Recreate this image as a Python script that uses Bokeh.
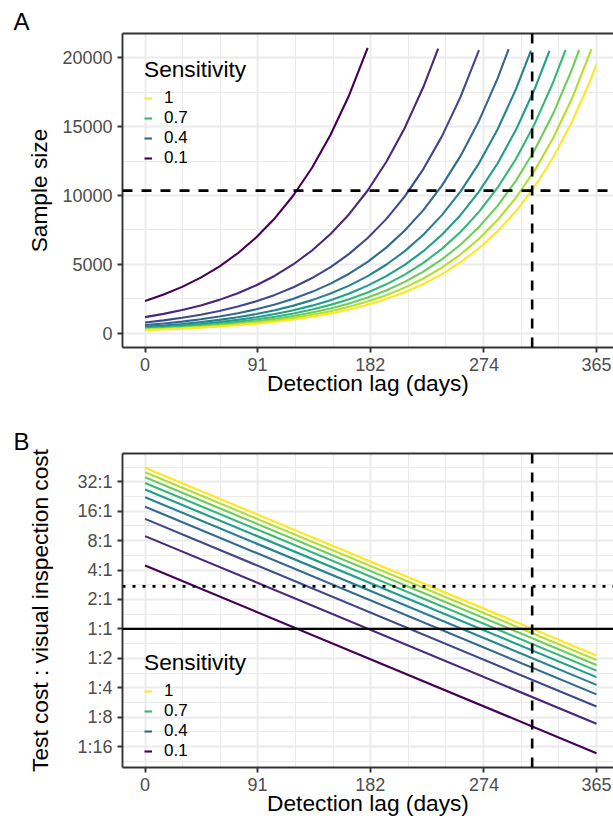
from bokeh.plotting import figure
from bokeh.models import Range1d, FixedTicker, Span, Legend, LegendItem, LinearAxis
from bokeh.layouts import column
from bokeh.embed import file_html
from bokeh.resources import INLINE

# ---------------- data ----------------
sensitivity = [0.1, 0.2, 0.3, 0.4, 0.5, 0.6, 0.7, 0.8, 0.9, 1.0]
line_colors = ["#440154", "#482878", "#3E4989", "#31688E", "#26828E",
               "#1F9E89", "#35B779", "#6DCD59", "#B4DE2C", "#FDE725"]

# panel A: sample size, read every 15 days, last value at the curve's last day
lag_grid = [0, 15, 30, 45, 60, 75, 90, 105, 120, 135, 150, 165, 180,
            195, 210, 225, 240, 255, 270, 285, 300, 315, 330, 345, 360]
size_last_day = [180, 237, 270, 294, 312, 327, 340, 351, 361, 365]

size_s01 = [2340, 2806, 3366, 4036, 4841, 5806, 6963, 8350, 10015, 12011, 14404, 17275, 20718]
size_s02 = [1170, 1403, 1683, 2018, 2421, 2903, 3482, 4175, 5008, 6006, 7202, 8638, 10359,
            12424, 14900, 17869, 20665]
size_s03 = [780, 935, 1122, 1345, 1614, 1935, 2321, 2783, 3338, 4004, 4801, 5758, 6906,
            8282, 9933, 11913, 14287, 17134, 20549]
size_s04 = [585, 702, 842, 1009, 1210, 1452, 1741, 2088, 2504, 3003, 3601, 4319, 5180,
            6212, 7450, 8935, 10715, 12851, 15412, 18484, 20618]
size_s05 = [468, 561, 673, 807, 968, 1161, 1393, 1670, 2003, 2402, 2881, 3455, 4144,
            4969, 5960, 7148, 8572, 10281, 12329, 14787, 17734, 20512]
size_s06 = [390, 468, 561, 673, 807, 968, 1161, 1392, 1669, 2002, 2401, 2879, 3453,
            4141, 4967, 5956, 7144, 8567, 10275, 12322, 14778, 17723, 20498]
size_s07 = [334, 401, 481, 577, 692, 829, 995, 1193, 1431, 1716, 2058, 2468, 2960,
            3550, 4257, 5105, 6123, 7343, 8807, 10562, 12667, 15191, 18219, 20566]
size_s08 = [293, 351, 421, 505, 605, 726, 870, 1044, 1252, 1501, 1801, 2159, 2590,
            3106, 3725, 4467, 5358, 6425, 7706, 9242, 11084, 13293, 15942, 19119, 20563]
size_s09 = [260, 312, 374, 448, 538, 645, 774, 928, 1113, 1335, 1600, 1919, 2302,
            2761, 3311, 3971, 4762, 5711, 6850, 8215, 9852, 11816, 14170, 16995, 20631]
size_s10 = [234, 281, 337, 404, 484, 581, 696, 835, 1002, 1201, 1440, 1728, 2072,
            2485, 2980, 3574, 4286, 5140, 6165, 7393, 8867, 10634, 12753, 15295, 18344, 19492]
size_series = [size_s01, size_s02, size_s03, size_s04, size_s05,
               size_s06, size_s07, size_s08, size_s09, size_s10]

# panel B: cost ratio (test : visual inspection), straight lines on a log scale
ratio_days = [0, 365]
ratio_start = [4.45, 8.9, 13.35, 17.8, 22.25, 26.7, 31.15, 35.6, 40.05, 44.5]
ratio_end = [0.0535, 0.107, 0.1605, 0.214, 0.2675, 0.321, 0.3745, 0.428, 0.4815, 0.535]

# reference lines
lag_cutoff = 313
size_cutoff = 10350
ratio_breakeven = 1
ratio_dotted = 2.72

# ticks
lag_ticks = [0, 91, 182, 274, 365]
lag_minor = [30.42, 60.83, 121.67, 152.08, 212.92, 243.33, 304.17, 334.58]
size_ticks = [0, 5000, 10000, 15000, 20000]
size_minor = [2500, 7500, 12500, 17500]
ratio_ticks = [32, 16, 8, 4, 2, 1, 0.5, 0.25, 0.125, 0.0625]
ratio_labels = ["32:1", "16:1", "8:1", "4:1", "2:1", "1:1", "1:2", "1:4", "1:8", "1:16"]
ratio_minor = [0.0442, 0.0884, 0.1768, 0.3536, 0.7071, 1.4142, 2.8284, 5.6569, 11.3137, 22.6274, 45.2548]
legend_show = [1.0, 0.7, 0.4, 0.1]

# ---------------- style ----------------
FONT = "Liberation Sans"
BORDER = "#333333"
GRID = "#EBEBEB"
TICK_TXT = "#4D4D4D"
TICK_SIZE = "18px"
TITLE_SIZE = "22.7px"


def style(p, yticker, ylabel, ylabel_standoff, tag):
    p.outline_line_color = None
    p.background_fill_color = "white"
    p.border_fill_color = "white"
    xt = FixedTicker(ticks=lag_ticks, minor_ticks=lag_minor)
    p.xaxis.ticker = xt
    p.xgrid.ticker = xt
    p.yaxis.ticker = yticker
    p.ygrid.ticker = yticker
    for g in (p.xgrid, p.ygrid):
        g.grid_line_color = GRID
        g.grid_line_width = 1.9
        g.minor_grid_line_color = GRID
        g.minor_grid_line_width = 1.0
    for ax in (p.xaxis, p.yaxis):
        ax.axis_line_color = BORDER
        ax.axis_line_width = 1.9
        ax.major_tick_line_color = BORDER
        ax.major_tick_line_width = 1.9
        ax.major_tick_out = 5
        ax.major_tick_in = 0
        ax.minor_tick_line_color = None
        ax.major_label_text_font = FONT
        ax.major_label_text_font_size = TICK_SIZE
        ax.major_label_text_color = TICK_TXT
        ax.major_label_standoff = 5
        ax.axis_label_text_font = FONT
        ax.axis_label_text_font_size = TITLE_SIZE
        ax.axis_label_text_font_style = "normal"
        ax.axis_label_text_color = "black"
    p.yaxis.axis_label = ylabel
    p.yaxis.axis_label_standoff = ylabel_standoff
    p.xaxis.axis_label = "Detection lag (days)"
    p.xaxis.axis_label_standoff = -4
    top = LinearAxis(ticker=FixedTicker(ticks=[]), axis_line_color=BORDER, axis_line_width=1.9,
                     major_tick_line_color=None, minor_tick_line_color=None,
                     major_tick_out=0, major_tick_in=0, major_label_standoff=0,
                     major_label_text_font_size="0px")
    p.add_layout(top, "above")
    # panel tag
    p.title.text = tag
    p.title.align = "left"
    p.title.offset = -109
    p.title.standoff = -2
    p.title.vertical_align = "bottom"
    p.title.text_font = FONT
    p.title.text_font_size = "24px"
    p.title.text_font_style = "normal"
    p.title.text_color = "black"


def add_legend(p, renderers, loc):
    items = []
    for s in legend_show:
        i = sensitivity.index(s)
        lab = "1" if s == 1.0 else str(s)
        items.append(LegendItem(label=lab, renderers=[renderers[i]]))
    lg = Legend(items=items, location=loc, title="Sensitivity",
                title_text_font=FONT, title_text_font_size=TITLE_SIZE,
                title_text_font_style="normal", title_text_color="black",
                title_standoff=5,
                label_text_font=FONT, label_text_font_size="17px",
                label_text_color="black", label_text_line_height=1.0,
                glyph_width=8, glyph_height=18, label_height=18,
                label_standoff=12, spacing=-2, padding=4, margin=0,
                border_line_color=None, background_fill_alpha=0.0)
    p.add_layout(lg)


# ---------------- panel A ----------------
pA = figure(width=613, height=412, output_backend="svg", toolbar_location=None,
            x_range=Range1d(-18.25, 378.77), y_range=Range1d(-1036, 21754),
            min_border_left=122, min_border_right=0, min_border_top=33, min_border_bottom=65)
style(pA, FixedTicker(ticks=size_ticks, minor_ticks=size_minor), "Sample size", 7, "A")
rA = []
for s, col, vals, last in zip(sensitivity, line_colors, size_series, size_last_day):
    days = lag_grid[:len(vals) - 1] + [last]
    rA.append(pA.line(days, vals, line_color=col, line_width=2.1))
pA.add_layout(Span(location=size_cutoff, dimension="width", line_color="black",
                   line_width=2.6, line_dash="10 9"))
pA.add_layout(Span(location=lag_cutoff, dimension="height", line_color="black",
                   line_width=2.6, line_dash="10 9"))
add_legend(pA, rA, (22, 179))

# ---------------- panel B ----------------
pB = figure(width=613, height=413, output_backend="svg", toolbar_location=None,
            y_axis_type="log",
            x_range=Range1d(-18.25, 378.77), y_range=Range1d(0.0382, 62.3),
            min_border_left=122, min_border_right=0, min_border_top=41, min_border_bottom=58)
style(pB, FixedTicker(ticks=ratio_ticks, minor_ticks=ratio_minor),
      "Test cost : visual inspection cost", 21, "B")
pB.yaxis.major_label_overrides = {t: l for t, l in zip(ratio_ticks, ratio_labels)}
rB = []
for s, col, a, b in zip(sensitivity, line_colors, ratio_start, ratio_end):
    rB.append(pB.line(ratio_days, [a, b], line_color=col, line_width=2.1))
pB.add_layout(Span(location=ratio_breakeven, dimension="width", line_color="black", line_width=2.2))
pB.add_layout(Span(location=ratio_dotted, dimension="width", line_color="black",
                   line_width=2.8, line_dash="3 7"))
pB.add_layout(Span(location=lag_cutoff, dimension="height", line_color="black",
                   line_width=2.6, line_dash="10 9"))
add_legend(pB, rB, (22, 6))

layout = column(pA, pB, spacing=0)
open("out.html", "w").write(file_html(layout, INLINE))
